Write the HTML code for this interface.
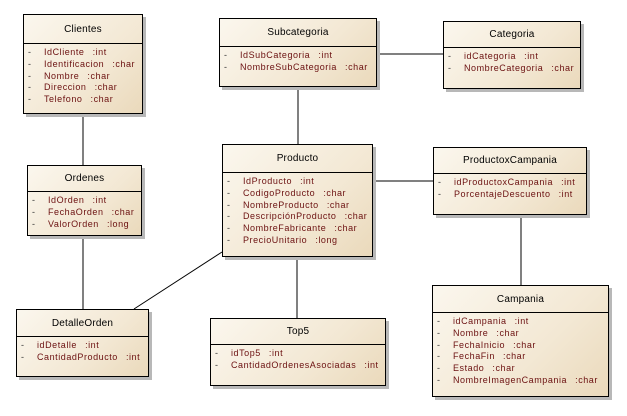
<!DOCTYPE html>
<html><head><meta charset="utf-8"><style>
body{margin:0;width:627px;height:416px;background:#fff;position:relative;overflow:hidden;font-family:"Liberation Sans",sans-serif;}
.b{position:absolute;border:1px solid #000;background:linear-gradient(135deg,#fbf7ee 0%,#f3e8d4 60%,#ead9bb 100%);box-shadow:3px 3px 0 #b8b8b8;box-sizing:border-box;}
.h{border-bottom:1px solid #000;text-align:center;font-size:10px;color:#000;box-sizing:border-box;display:flex;align-items:center;justify-content:center;letter-spacing:0.2px;}
.r{font-size:9px;color:#6b1010;height:11.8px;line-height:11.8px;white-space:nowrap;position:relative;padding-left:20px;letter-spacing:0.55px;word-spacing:1px;}
.r:before{content:"-";position:absolute;left:4px;color:#333;}
.a{padding-top:3px;}
svg{position:absolute;left:0;top:0;}
</style></head><body>
<svg width="627" height="416"><g stroke="#000" stroke-width="1">
<line x1="83" y1="114" x2="83" y2="165"/>
<line x1="83" y1="236" x2="83" y2="309"/>
<line x1="298" y1="87" x2="298" y2="144"/>
<line x1="377" y1="54" x2="443" y2="54"/>
<line x1="373" y1="181" x2="433" y2="181"/>
<line x1="521" y1="215" x2="521" y2="285"/>
<line x1="222" y1="252" x2="134" y2="309"/>
<line x1="297" y1="257" x2="297" y2="318"/>
</g></svg>

<div class="b" style="left:23px;top:14px;width:120px;height:100px"><div class="h" style="height:29px">Clientes</div><div class="a">
<div class="r">IdCliente &nbsp;:int</div><div class="r">Identificacion &nbsp;:char</div><div class="r">Nombre &nbsp;:char</div><div class="r">Direccion &nbsp;:char</div><div class="r">Telefono &nbsp;:char</div></div></div>

<div class="b" style="left:219px;top:18px;width:158px;height:69px"><div class="h" style="height:28px">Subcategoria</div><div class="a">
<div class="r">IdSubCategoria &nbsp;:int</div><div class="r">NombreSubCategoria &nbsp;:char</div></div></div>

<div class="b" style="left:443px;top:21px;width:138px;height:68px"><div class="h" style="height:26px">Categoria</div><div class="a">
<div class="r">idCategoria &nbsp;:int</div><div class="r">NombreCategoria &nbsp;:char</div></div></div>

<div class="b" style="left:27px;top:165px;width:115px;height:71px"><div class="h" style="height:26px">Ordenes</div><div class="a">
<div class="r">IdOrden &nbsp;:int</div><div class="r">FechaOrden &nbsp;:char</div><div class="r">ValorOrden &nbsp;:long</div></div></div>

<div class="b" style="left:222px;top:144px;width:151px;height:113px"><div class="h" style="height:28px">Producto</div><div class="a">
<div class="r">IdProducto &nbsp;:int</div><div class="r">CodigoProducto &nbsp;:char</div><div class="r">NombreProducto &nbsp;:char</div><div class="r">DescripciónProducto &nbsp;:char</div><div class="r">NombreFabricante &nbsp;:char</div><div class="r">PrecioUnitario &nbsp;:long</div></div></div>

<div class="b" style="left:433px;top:147px;width:154px;height:68px"><div class="h" style="height:26px">ProductoxCampania</div><div class="a">
<div class="r">idProductoxCampania &nbsp;:int</div><div class="r">PorcentajeDescuento &nbsp;:int</div></div></div>

<div class="b" style="left:16px;top:309px;width:133px;height:68px"><div class="h" style="height:27px">DetalleOrden</div><div class="a">
<div class="r">idDetalle &nbsp;:int</div><div class="r">CantidadProducto &nbsp;:int</div></div></div>

<div class="b" style="left:210px;top:318px;width:176px;height:68px"><div class="h" style="height:26px">Top5</div><div class="a">
<div class="r">idTop5 &nbsp;:int</div><div class="r">CantidadOrdenesAsociadas &nbsp;:int</div></div></div>

<div class="b" style="left:432px;top:285px;width:177px;height:112px"><div class="h" style="height:27px">Campania</div><div class="a">
<div class="r">idCampania &nbsp;:int</div><div class="r">Nombre &nbsp;:char</div><div class="r">FechaInicio &nbsp;:char</div><div class="r">FechaFin &nbsp;:char</div><div class="r">Estado &nbsp;:char</div><div class="r">NombreImagenCampania &nbsp;:char</div></div></div>
</body></html>
